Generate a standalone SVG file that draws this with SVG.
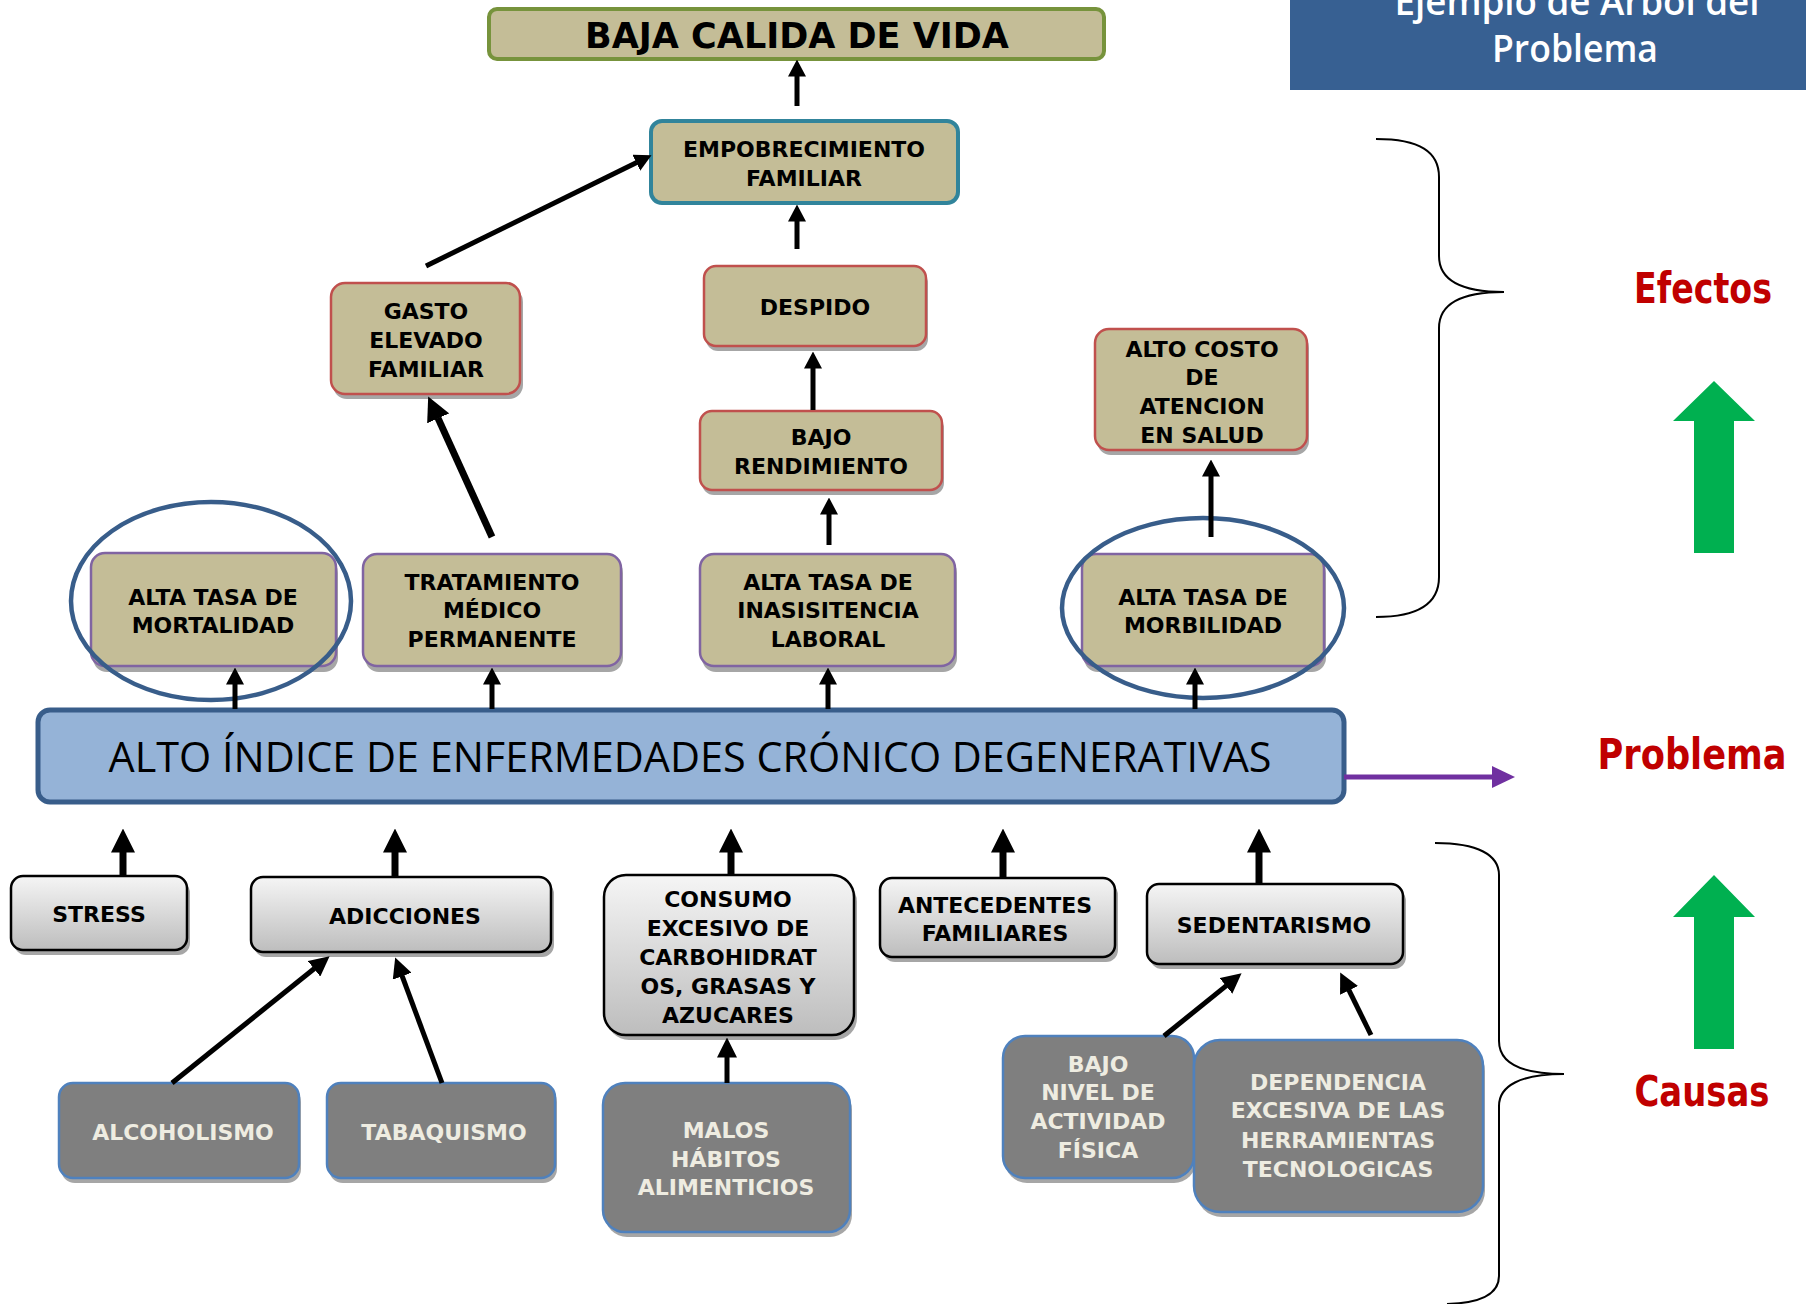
<svg xmlns="http://www.w3.org/2000/svg" width="1806" height="1304" viewBox="0 0 1806 1304">
  <defs>
    <linearGradient id="causeGrad" x1="0" y1="0" x2="0" y2="1">
      <stop offset="0" stop-color="#F5F5F5"/>
      <stop offset="1" stop-color="#BDBDBD"/>
    </linearGradient>
    <marker id="ahS" markerUnits="userSpaceOnUse" markerWidth="17" markerHeight="18" viewBox="0 0 17 18" refX="0.5" refY="9" orient="auto">
      <path d="M0,0 L17,9 L0,18 z" fill="#000"/>
    </marker>
    <marker id="ahM" markerUnits="userSpaceOnUse" markerWidth="20" markerHeight="20" viewBox="0 0 20 20" refX="0.5" refY="10" orient="auto">
      <path d="M0,0 L20,10 L0,20 z" fill="#000"/>
    </marker>
    <marker id="ahL" markerUnits="userSpaceOnUse" markerWidth="24" markerHeight="24" viewBox="0 0 24 24" refX="0.5" refY="12" orient="auto">
      <path d="M0,0 L24,12 L0,24 z" fill="#000"/>
    </marker>
  </defs>
  <style>
    .lbl { font-family: "DejaVu Sans", Verdana, sans-serif; font-weight: bold; font-size: 22px; text-anchor: middle; fill: #000; }
    .lbl-light { fill: #EEECE1; }
    .tan { fill: #C4BD97; }
    .red { stroke: #C0504D; stroke-width: 2.5; }
    .purple { stroke: #8064A2; stroke-width: 2.5; }
    .shadow { fill: #A6A6A6; }
    .cause { fill: url(#causeGrad); stroke: #000; stroke-width: 2.5; }
    .root { fill: #7F7F7F; stroke: #4F81BD; stroke-width: 2.5; }
    .ring { fill: none; stroke: #385D8A; stroke-width: 4.5; }
    .conn { stroke: #000; fill: none; }
    .brace { fill: none; stroke: #000; stroke-width: 2; }
    .side { font-family: "DejaVu Sans Condensed", "DejaVu Sans", sans-serif; font-weight: bold; font-size: 42px; fill: #C00000; text-anchor: middle; }
  </style>

  <rect x="0" y="0" width="1806" height="1304" fill="#FFFFFF"/>

  <!-- header banner -->
  <g id="header">
    <rect x="1290" y="0" width="516" height="90" fill="#376092"/>
    <text x="1577" y="15" font-family="'Open Sans', sans-serif" font-weight="600" font-size="38" fill="#FFFFFF" text-anchor="middle" textLength="365" lengthAdjust="spacingAndGlyphs">Ejemplo de Arbol del</text>
    <text x="1575" y="62" font-family="'Open Sans', sans-serif" font-weight="600" font-size="38" fill="#FFFFFF" text-anchor="middle" textLength="166" lengthAdjust="spacingAndGlyphs">Problema</text>
  </g>

  <!-- effects -->
  <g id="baja-calidad">
    <rect x="489" y="9" width="615" height="50" rx="8" fill="#C4BD97" stroke="#77933C" stroke-width="4"/>
    <text x="797" y="48" font-family="'DejaVu Sans', Verdana, sans-serif" font-weight="bold" font-size="35" text-anchor="middle">BAJA CALIDA DE VIDA</text>
  </g>

  <g id="empobrecimiento">
    <rect x="651" y="121" width="307" height="82" rx="11" fill="#C4BD97" stroke="#31849B" stroke-width="4"/>
    <text class="lbl" x="804" y="157">EMPOBRECIMIENTO</text>
    <text class="lbl" x="804" y="186">FAMILIAR</text>
  </g>

  <g id="gasto">
    <rect class="shadow" x="333" y="288" width="190" height="111" rx="14"/>
    <rect class="tan red" x="331" y="283" width="189" height="111" rx="14"/>
    <text class="lbl" x="426" y="319">GASTO</text>
    <text class="lbl" x="426" y="348">ELEVADO</text>
    <text class="lbl" x="426" y="377">FAMILIAR</text>
  </g>

  <g id="despido">
    <rect class="shadow" x="706" y="271" width="222" height="80" rx="12"/>
    <rect class="tan red" x="704" y="266" width="222" height="80" rx="12"/>
    <text class="lbl" x="815" y="315">DESPIDO</text>
  </g>

  <g id="bajo-rendimiento">
    <rect class="shadow" x="702" y="416" width="242" height="79" rx="12"/>
    <rect class="tan red" x="700" y="411" width="242" height="79" rx="12"/>
    <text class="lbl" x="821" y="445">BAJO</text>
    <text class="lbl" x="821" y="474">RENDIMIENTO</text>
  </g>

  <g id="alto-costo">
    <rect class="shadow" x="1097" y="334" width="212" height="121" rx="14"/>
    <rect class="tan red" x="1095" y="329" width="212" height="121" rx="14"/>
    <text class="lbl" x="1202" y="357">ALTO COSTO</text>
    <text class="lbl" x="1202" y="385">DE</text>
    <text class="lbl" x="1202" y="414">ATENCION</text>
    <text class="lbl" x="1202" y="443">EN SALUD</text>
  </g>

  <g id="mortalidad">
    <rect class="shadow" x="93" y="559" width="245" height="113" rx="14"/>
    <rect class="tan purple" x="91" y="553" width="245" height="113" rx="14"/>
    <text class="lbl" x="213" y="605">ALTA TASA DE</text>
    <text class="lbl" x="213" y="633">MORTALIDAD</text>
    <ellipse class="ring" cx="211" cy="601" rx="140" ry="99"/>
  </g>

  <g id="tratamiento">
    <rect class="shadow" x="365" y="559" width="258" height="113" rx="14"/>
    <rect class="tan purple" x="363" y="554" width="258" height="112" rx="14"/>
    <text class="lbl" x="492" y="590">TRATAMIENTO</text>
    <text class="lbl" x="492" y="618">MÉDICO</text>
    <text class="lbl" x="492" y="647">PERMANENTE</text>
  </g>

  <g id="inasistencia">
    <rect class="shadow" x="702" y="559" width="255" height="113" rx="14"/>
    <rect class="tan purple" x="700" y="554" width="255" height="112" rx="14"/>
    <text class="lbl" x="828" y="590">ALTA TASA DE</text>
    <text class="lbl" x="828" y="618">INASISITENCIA</text>
    <text class="lbl" x="828" y="647">LABORAL</text>
  </g>

  <g id="morbilidad">
    <rect class="shadow" x="1084" y="559" width="242" height="113" rx="14"/>
    <rect class="tan purple" x="1082" y="554" width="242" height="112" rx="14"/>
    <text class="lbl" x="1203" y="605">ALTA TASA DE</text>
    <text class="lbl" x="1203" y="633">MORBILIDAD</text>
    <ellipse class="ring" cx="1203" cy="608" rx="141" ry="90"/>
  </g>

  <!-- central problem -->
  <g id="problema-central">
    <rect x="38" y="710" width="1306" height="92" rx="12" fill="#95B3D7" stroke="#385D8A" stroke-width="5"/>
    <text x="690" y="772" font-family="'Open Sans', sans-serif" font-size="42" text-anchor="middle" textLength="1163" lengthAdjust="spacingAndGlyphs">ALTO ÍNDICE DE ENFERMEDADES CRÓNICO DEGENERATIVAS</text>
  </g>

  <!-- direct causes -->
  <g id="stress">
    <rect class="shadow" x="14" y="881" width="176" height="74" rx="12"/>
    <rect class="cause" x="11" y="876" width="176" height="74" rx="12"/>
    <text class="lbl" x="99" y="922">STRESS</text>
  </g>

  <g id="adicciones">
    <rect class="shadow" x="254" y="882" width="300" height="75" rx="12"/>
    <rect class="cause" x="251" y="877" width="300" height="75" rx="12"/>
    <text class="lbl" x="405" y="924">ADICCIONES</text>
  </g>

  <g id="consumo">
    <rect class="shadow" x="607" y="880" width="250" height="160" rx="22"/>
    <rect class="cause" x="604" y="875" width="250" height="160" rx="22"/>
    <text class="lbl" x="728" y="907">CONSUMO</text>
    <text class="lbl" x="728" y="936">EXCESIVO DE</text>
    <text class="lbl" x="728" y="965">CARBOHIDRAT</text>
    <text class="lbl" x="728" y="994">OS, GRASAS Y</text>
    <text class="lbl" x="728" y="1023">AZUCARES</text>
  </g>

  <g id="antecedentes">
    <rect class="shadow" x="883" y="883" width="235" height="79" rx="12"/>
    <rect class="cause" x="880" y="878" width="235" height="79" rx="12"/>
    <text class="lbl" x="995" y="913">ANTECEDENTES</text>
    <text class="lbl" x="995" y="941">FAMILIARES</text>
  </g>

  <g id="sedentarismo">
    <rect class="shadow" x="1150" y="889" width="256" height="80" rx="12"/>
    <rect class="cause" x="1147" y="884" width="256" height="80" rx="12"/>
    <text class="lbl" x="1274" y="933">SEDENTARISMO</text>
  </g>

  <!-- root causes -->
  <g id="alcoholismo">
    <rect class="shadow" x="61" y="1088" width="240" height="95" rx="14"/>
    <rect class="root" x="59" y="1083" width="240" height="95" rx="14"/>
    <text class="lbl lbl-light" x="183" y="1140">ALCOHOLISMO</text>
  </g>

  <g id="tabaquismo">
    <rect class="shadow" x="329" y="1088" width="228" height="95" rx="14"/>
    <rect class="root" x="327" y="1083" width="228" height="95" rx="14"/>
    <text class="lbl lbl-light" x="444" y="1140">TABAQUISMO</text>
  </g>

  <g id="malos-habitos">
    <rect class="shadow" x="605" y="1088" width="247" height="149" rx="22"/>
    <rect class="root" x="603" y="1083" width="247" height="149" rx="22"/>
    <text class="lbl lbl-light" x="726" y="1138">MALOS</text>
    <text class="lbl lbl-light" x="726" y="1167">HÁBITOS</text>
    <text class="lbl lbl-light" x="726" y="1195">ALIMENTICIOS</text>
  </g>

  <g id="bajo-nivel">
    <rect class="shadow" x="1005" y="1041" width="191" height="142" rx="22"/>
    <rect class="root" x="1003" y="1036" width="191" height="142" rx="22"/>
    <text class="lbl lbl-light" x="1098" y="1072">BAJO</text>
    <text class="lbl lbl-light" x="1098" y="1100">NIVEL DE</text>
    <text class="lbl lbl-light" x="1098" y="1129">ACTIVIDAD</text>
    <text class="lbl lbl-light" x="1098" y="1158">FÍSICA</text>
  </g>

  <g id="dependencia">
    <rect class="shadow" x="1196" y="1045" width="289" height="172" rx="26"/>
    <rect class="root" x="1194" y="1040" width="289" height="172" rx="26"/>
    <text class="lbl lbl-light" x="1338" y="1090">DEPENDENCIA</text>
    <text class="lbl lbl-light" x="1338" y="1118">EXCESIVA DE LAS</text>
    <text class="lbl lbl-light" x="1338" y="1148">HERRAMIENTAS</text>
    <text class="lbl lbl-light" x="1338" y="1177">TECNOLOGICAS</text>
  </g>

  <!-- connectors -->
  <g id="connectors">
    <!-- effects chain -->
    <line class="conn" x1="797" y1="106" x2="797" y2="76" stroke-width="5" marker-end="url(#ahS)"/>
    <line class="conn" x1="797" y1="249" x2="797" y2="221" stroke-width="5" marker-end="url(#ahS)"/>
    <line class="conn" x1="426" y1="266" x2="636.7" y2="162.5" stroke-width="5" marker-end="url(#ahS)"/>
    <line class="conn" x1="813" y1="410" x2="813" y2="368" stroke-width="5" marker-end="url(#ahS)"/>
    <line class="conn" x1="829" y1="545" x2="829" y2="514" stroke-width="5" marker-end="url(#ahS)"/>
    <line class="conn" x1="492" y1="537" x2="437.9" y2="417.9" stroke-width="7" marker-end="url(#ahL)"/>
    <line class="conn" x1="1211" y1="537" x2="1211" y2="476" stroke-width="5" marker-end="url(#ahS)"/>
    <!-- problem to effects -->
    <line class="conn" x1="235" y1="709" x2="235" y2="684" stroke-width="5" marker-end="url(#ahS)"/>
    <line class="conn" x1="492" y1="709" x2="492" y2="684" stroke-width="5" marker-end="url(#ahS)"/>
    <line class="conn" x1="828" y1="709" x2="828" y2="684" stroke-width="5" marker-end="url(#ahS)"/>
    <line class="conn" x1="1195" y1="709" x2="1195" y2="684" stroke-width="5" marker-end="url(#ahS)"/>
    <!-- causes to problem -->
    <line class="conn" x1="123" y1="876" x2="123" y2="852" stroke-width="7" marker-end="url(#ahL)"/>
    <line class="conn" x1="395" y1="877" x2="395" y2="852" stroke-width="7" marker-end="url(#ahL)"/>
    <line class="conn" x1="731" y1="875" x2="731" y2="852" stroke-width="7" marker-end="url(#ahL)"/>
    <line class="conn" x1="1003" y1="878" x2="1003" y2="852" stroke-width="7" marker-end="url(#ahL)"/>
    <line class="conn" x1="1259" y1="884" x2="1259" y2="852" stroke-width="7" marker-end="url(#ahL)"/>
    <!-- root causes to causes -->
    <line class="conn" x1="172" y1="1083" x2="314.4" y2="968.5" stroke-width="5" marker-end="url(#ahM)"/>
    <line class="conn" x1="442" y1="1083" x2="402" y2="975.7" stroke-width="5" marker-end="url(#ahM)"/>
    <line class="conn" x1="727" y1="1083" x2="727" y2="1057" stroke-width="5" marker-end="url(#ahM)"/>
    <line class="conn" x1="1164" y1="1036" x2="1226.4" y2="985.6" stroke-width="5" marker-end="url(#ahM)"/>
    <line class="conn" x1="1371" y1="1035" x2="1348.8" y2="989.9" stroke-width="5" marker-end="url(#ahM)"/>
    <!-- problem pointer -->
    <line x1="1344" y1="777" x2="1493" y2="777" stroke="#7030A0" stroke-width="5"/>
    <polygon points="1492,766 1515,777 1492,788" fill="#7030A0"/>
  </g>

  <!-- side legend -->
  <g id="legend">
    <path class="brace" d="M1376,139 C1420,139 1439,152 1439,177 L1439,256 C1439,280 1460,292 1504,292 C1460,292 1439,304 1439,328 L1439,577 C1439,602 1420,617 1376,617"/>
    <path class="brace" d="M1435,843 C1478,843 1499,855 1499,875 L1499,1041 C1499,1062 1520,1074 1564,1074 C1520,1074 1499,1086 1499,1106 L1499,1276 C1499,1294 1482,1303 1447,1304"/>
    <text class="side" x="1703" y="303" textLength="138" lengthAdjust="spacingAndGlyphs">Efectos</text>
    <text class="side" x="1692" y="769" textLength="189" lengthAdjust="spacingAndGlyphs">Problema</text>
    <text class="side" x="1702" y="1106" textLength="135" lengthAdjust="spacingAndGlyphs">Causas</text>
    <polygon points="1714,381 1755,421 1734,421 1734,553 1694,553 1694,421 1673,421" fill="#00B050"/>
    <polygon points="1714,875 1755,917 1734,917 1734,1049 1694,1049 1694,917 1673,917" fill="#00B050"/>
  </g>
</svg>
